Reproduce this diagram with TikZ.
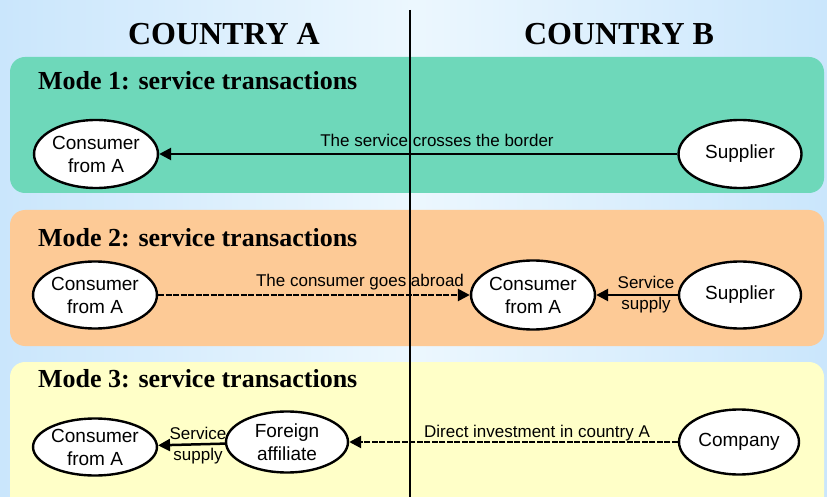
\documentclass[tikz,border=0pt]{standalone}
\usepackage{fontspec}
\setmainfont{Liberation Serif}
\setsansfont{Liberation Sans}
\usetikzlibrary{shapes.geometric,arrows.meta}
\definecolor{bgblue}{RGB}{202,230,252}
\definecolor{bgwhite}{RGB}{236,247,254}
\definecolor{tealfill}{RGB}{110,216,186}
\definecolor{orangefill}{RGB}{253,202,150}
\definecolor{yellowfill}{RGB}{255,255,200}
\tikzset{
  oval/.style={ellipse, draw=black, line width=2.4pt, fill=white, inner sep=0pt,
    minimum width=122pt, minimum height=67pt, align=center,
    font=\sffamily\fontsize{19}{23}\selectfont},
  panel/.style={rounded corners=15pt},
  heading/.style={font=\bfseries\fontsize{32}{35}\selectfont, anchor=base, inner sep=0pt},
  modetitle/.style={font=\bfseries\fontsize{26}{30}\selectfont, anchor=base west, inner sep=0pt},
  lbl/.style={font=\sffamily\fontsize{17}{21}\selectfont, anchor=base, inner sep=0pt},
  twolbl/.style={font=\sffamily\fontsize{17}{21}\selectfont, align=center, inner sep=0pt},
  flow/.style={line width=2.5pt, -{Triangle[length=12pt,width=12pt]}},
  dflow/.style={flow, dash pattern=on 6pt off 1.5pt},
}
\begin{document}
\begin{tikzpicture}[x=1pt,y=-1pt]
\useasboundingbox (0,0) rectangle (827,497);
\begin{scope}
\clip (0,0) rectangle (827,497);
\shade[left color=bgblue, right color=bgblue, middle color=bgwhite] (0,0) rectangle (827,497);
\fill[panel, tealfill] (10,57) rectangle (824,193);
\fill[panel, orangefill] (10,210) rectangle (824,346);
\fill[panel, yellowfill] (10,362) rectangle (824,515);
\end{scope}
\coordinate (bordertop) at (410,10);
\coordinate (borderbot) at (410,497);
\draw[line width=2.5pt] (bordertop) -- (borderbot);

\node[heading] (ca) at (224,45) {COUNTRY A};
\node[heading] (cb) at (619,45) {COUNTRY B};

\node[modetitle] (m1) at (38,90) {Mode 1: service transactions};
\node[modetitle] (m2) at (38,247) {Mode 2: service transactions};
\node[modetitle] (m3) at (38,387) {Mode 3: service transactions};

% Mode 1
\node[oval, minimum width=121pt, minimum height=68pt] (con1) at (96,154) {Consumer\\from A};
\node[oval, minimum width=123pt, minimum height=68pt] (sup1) at (740,154) {Supplier};
\draw[flow] (sup1) -- (con1);
\node[lbl] (l1) at (437,147) {The service crosses the border};

% Mode 2
\node[oval] (con2a) at (95,295) {Consumer\\from A};
\node[oval, minimum height=69pt] (con2b) at (533,295) {Consumer\\from A};
\node[oval] (sup2) at (740,295) {Supplier};
\draw[dflow] (con2a) -- (con2b);
\draw[flow] (sup2) -- (con2b);
\node[lbl] (l2) at (360,286) {The consumer goes abroad};
\node[twolbl] (s2) at (646,295) {Service\\supply};

% Mode 3
\node[oval, minimum width=121pt, minimum height=57pt] (con3) at (95,447) {Consumer\\from A};
\node[oval, minimum width=122pt, minimum height=61pt] (aff) at (287,442) {Foreign\\affiliate};
\node[oval, minimum width=120pt, minimum height=65pt] (comp) at (739,442) {Company};
\draw[dflow] (comp) -- (aff);
\draw[flow] (aff) -- (con3);
\node[lbl] (l3) at (537,437) {Direct investment in country A};
\node[twolbl] (s3) at (198,446) {Service\\supply};
\end{tikzpicture}
\end{document}
